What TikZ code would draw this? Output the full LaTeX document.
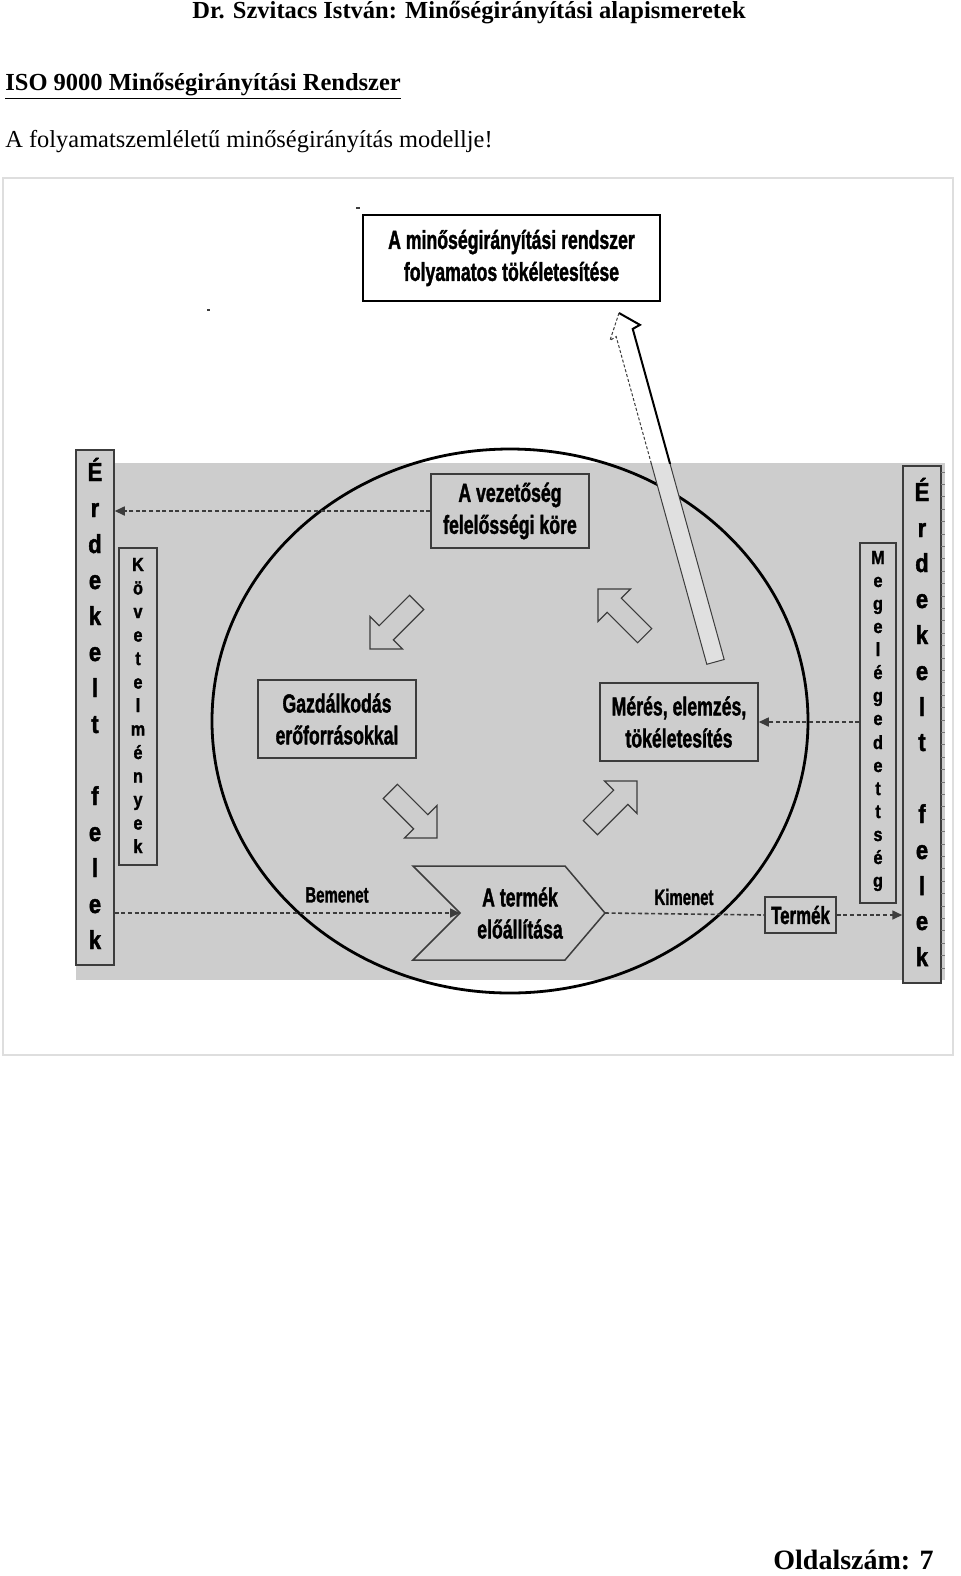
\documentclass[tikz,border=0pt]{standalone}
\usepackage{fontspec}
\setmainfont{Liberation Serif}
\newfontfamily\dsans[FakeBold=1.8]{Liberation Sans Bold}
\usetikzlibrary{arrows.meta}
\definecolor{bggray}{RGB}{205,205,205}
\definecolor{lightarrow}{RGB}{224,224,224}
\definecolor{framegray}{RGB}{222,222,222}
\definecolor{lineg}{RGB}{60,60,60}
\newcommand\cn[1]{\scalebox{0.68}[1]{#1}}
\newcommand\cv[1]{\scalebox{0.85}[1]{#1}}
\begin{document}
\begin{tikzpicture}[x=0.5pt,y=-0.5pt,
  box/.style={draw=lineg, fill=bggray, line width=0.75pt, inner sep=0pt, align=center,
    font=\dsans\fontsize{13}{16}\selectfont},
  vbox/.style={draw=lineg, fill=bggray, line width=0.75pt, inner sep=0pt},
  bigletter/.style={anchor=base, inner sep=0pt, font=\dsans\fontsize{13}{16}\selectfont},
  smallletter/.style={anchor=base, inner sep=0pt, font=\dsans\fontsize{9.5}{11}\selectfont},
  lbl/.style={inner sep=0pt, align=center, font=\dsans\fontsize{13}{16}\selectfont},
  smalllbl/.style={inner sep=0pt, font=\dsans\fontsize{11}{13}\selectfont},
  dashln/.style={draw=lineg, line width=0.8pt, dash pattern=on 2pt off 1.3pt},
  dasharr/.style={dashln, -{Triangle[length=5pt,width=4.5pt]}},
  blockarrow/.pic={\draw[draw=lineg, line width=0.6pt]
      (0,0) -- (-23,-23) -- (-23,-10) -- (-66,-10) -- (-66,10) -- (-23,10) -- (-23,23) -- cycle;}
]
\useasboundingbox (0,0) rectangle (960,1576);
\fill[white] (0,0) rectangle (960,1576);

% page texts
\node[anchor=base, inner sep=0pt, font=\fontsize{12.25}{14}\selectfont\bfseries] (hdr) at (469,18)
  {Dr. Szvitacs István: Minőségirányítási alapismeretek};
\node[anchor=base west, inner sep=0pt, font=\fontsize{12.25}{14}\selectfont\bfseries] (iso) at (5,90)
  {\underline{ISO 9000 Minőségirányítási Rendszer}};
\node[anchor=base west, inner sep=0pt, font=\fontsize{12.2}{14}\selectfont] (sub) at (5,147)
  {A folyamatszemléletű minőségirányítás modellje!};
\node[anchor=base east, inner sep=0pt, font=\fontsize{14}{16}\selectfont\bfseries] (foot) at (934,1569)
  {Oldalszám: 7};

% scanned figure frame and grey field
\draw[framegray, line width=0.6pt] (3,178) rectangle (953,1055);
\fill[bggray] (76,463) rectangle (945,980);
% small scan specks
\draw[lineg, line width=0.6pt] (356,208) -- (360,208);
\draw[lineg, line width=0.6pt] (207,310) -- (210,310);

% ellipse
\draw[black, line width=1.4pt] (510,721) ellipse [x radius=149pt, y radius=136pt];

% vertical boxes
\node[vbox, minimum width=19pt, minimum height=257.5pt] (lerd) at (95,707.5) {};
\node[vbox, minimum width=19pt, minimum height=158.5pt] (kov) at (138,706.5) {};
\node[vbox, minimum width=19pt, minimum height=258.5pt] (rerd) at (922,724.5) {};
\node[vbox, minimum width=18pt, minimum height=180pt] (meg) at (878,723) {};
% ruler-like ticks beside the right box
\foreach \t in {0,...,40}
  \draw[lineg!70, line width=0.4pt] (941,{472+\t*12.4}) -- ++(4,0);

\foreach \c/\y [count=\i] in {É/481,r/517,d/553,e/589,k/625,e/661,l/697,t/733,f/805,e/841,l/877,e/913,k/949}
  \node[bigletter] (le\i) at (95,\y) {\cv{\c}};
\foreach \c/\y [count=\i] in {É/501,r/537,d/572,e/608,k/644,e/680,l/716,t/751,f/823,e/859,l/895,e/930,k/966}
  \node[bigletter] (re\i) at (922,\y) {\cv{\c}};
\foreach \c/\y [count=\i] in {K/571,ö/594.5,v/618,e/641.5,t/665,e/688.5,l/712,m/735.5,é/759,n/782.5,y/806,e/829.5,k/853}
  \node[smallletter] (ko\i) at (138,\y) {\cv{\c}};
\foreach \c/\y [count=\i] in {M/564,e/587,g/610,e/633,l/656,é/679,g/702,e/725,d/749,e/772,t/795,t/818,s/841,é/864,g/887}
  \node[smallletter] (me\i) at (878,\y) {\cv{\c}};

% inner boxes
\node[box, minimum width=79pt, minimum height=37pt] (vez) at (510,511)
  {\cn{A vezetőség}\\\cn{felelősségi köre}};
\node[box, minimum width=79pt, minimum height=39pt] (gaz) at (337,719)
  {\cn{Gazdálkodás}\\\cn{erőforrásokkal}};
\node[box, minimum width=79pt, minimum height=39pt] (meres) at (679,722)
  {\cn{Mérés, elemzés,}\\\cn{tökéletesítés}};
\node[box, minimum width=35.5pt, minimum height=18pt, font=\dsans\fontsize{12.4}{14}\selectfont]
  (tbox) at (800.5,915) {\cn{Termék}};

% chevron
\draw[draw=lineg, line width=0.75pt] (413,866) -- (565,866) -- (605,913) -- (565,960) -- (413,960) -- (460,913) -- cycle;
\coordinate (chL) at (460,913);
\coordinate (chR) at (605,913);
\node[lbl] (termek) at (520,913) {\cn{A termék}\\\cn{előállítása}};

\node[smalllbl] (bem) at (337,895) {\cn{Bemenet}};
\node[smalllbl] (kim) at (684,897) {\cn{Kimenet}};

% block arrows of the cycle
\pic[rotate=225] at (370,649) {blockarrow};
\pic[rotate=315] at (437,838) {blockarrow};
\pic[rotate=135] at (598,589) {blockarrow};
\pic[rotate=45] at (637,781) {blockarrow};

% dashed connectors
\draw[dasharr] (vez.west) -- (lerd.east |- vez.west);
\draw[dasharr] (lerd.east |- chL) -- (chL);
\draw[dashln] (chR) -- (tbox.west);
\draw[dasharr] (tbox.east) -- (rerd.west |- tbox.east);
\draw[dasharr] (meg.west |- meres.east) -- (meres.east);

% top box
\node[draw=black, fill=white, line width=1pt, inner sep=0pt, align=center,
  minimum width=148.5pt, minimum height=43pt, font=\dsans\fontsize{13}{16}\selectfont]
  (topbox) at (511.5,258)
  {\cn{A minőségirányítási rendszer}\\\cn{folyamatos tökéletesítése}};

% long improvement arrow
\begin{scope}[shift={(619,313)}, rotate=105.46]
  \coordinate (LA0) at (0,0);
  \coordinate (LA1) at (-17,17);
  \coordinate (LA2) at (-19,9);
  \coordinate (LA3) at (-362,9);
  \coordinate (LA4) at (-362,-9);
  \coordinate (LA5) at (-22,-9);
  \coordinate (LA6) at (-24,-16);
\end{scope}
\fill[white] (LA0) -- (LA1) -- (LA2) -- (LA3) -- (LA4) -- (LA5) -- (LA6) -- cycle;
\begin{scope}
  \clip (76,463) rectangle (945,980);
  \fill[lightarrow] (LA0) -- (LA1) -- (LA2) -- (LA3) -- (LA4) -- (LA5) -- (LA6) -- cycle;
  \draw[lineg, line width=0.5pt] (LA0) -- (LA1) -- (LA2) -- (LA3) -- (LA4) -- (LA5) -- (LA6) -- cycle;
\end{scope}
\begin{scope}
  \clip (0,0) rectangle (960,463);
  \draw[black, line width=1pt, line join=miter] (LA3) -- (LA2) -- (LA1) -- (LA0);
  \draw[lineg, line width=0.5pt, dash pattern=on 1.5pt off 1pt] (LA0) -- (LA6) -- (LA5) -- (LA4);
\end{scope}
\end{tikzpicture}
\end{document}
